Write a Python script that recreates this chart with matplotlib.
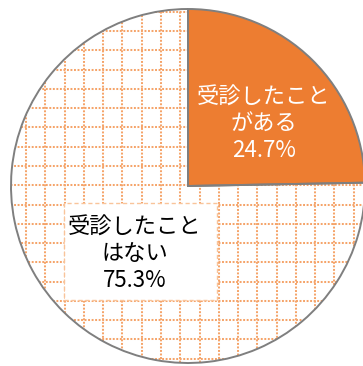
import numpy as np
import matplotlib.pyplot as plt
from matplotlib.patches import Rectangle

plt.rcParams['font.family'] = ['Noto Sans CJK JP', 'DejaVu Sans']

labels = ['受診したこと\nがある', '受診したこと\nはない']
values = [24.7, 75.3]


def main():
    fig = plt.figure(figsize=(3.63, 3.66), dpi=100)
    ax = fig.add_axes([0, 0, 1, 1])

    cx, cy, r = 188, 180, 177
    wedges, _ = ax.pie(values, colors=['#ED7D31', 'none'], startangle=90,
                       counterclock=False, center=(cx, cy), radius=r,
                       wedgeprops=dict(edgecolor='#7F7F7F', linewidth=1.4),
                       frame=True)
    ax.set_xlim(0, 363)
    ax.set_ylim(0, 366)
    ax.set_aspect('equal')
    ax.axis('off')

    # dotted grid pattern inside the big slice
    step = 19.28
    grid_kw = dict(color='#F5A46A', linewidth=1.45, linestyle=(0, (0.95, 0.8)),
                   dash_capstyle='butt', zorder=0)
    for gx in np.arange(6.7, 363, step):
        ln, = ax.plot([gx, gx], [0, 366], **grid_kw)
        ln.set_clip_path(wedges[1])
    for gy in np.arange(11.7, 366, step):
        ln, = ax.plot([0, 363], [366 - gy, 366 - gy], **grid_kw)
        ln.set_clip_path(wedges[1])

    ax.text(264, 242, '{}\n{:.1f}%'.format(labels[0], values[0]), color='white',
            fontsize=16, ha='center', va='center', multialignment='center',
            linespacing=1.22, zorder=5)

    ax.add_patch(Rectangle((64, 66), 153, 97, facecolor='white',
                           edgecolor='#F9C49A', linewidth=1.0,
                           linestyle=(0, (3, 2)), zorder=3))
    ax.text(135, 112, '{}\n{:.1f}%'.format(labels[1], values[1]), color='black',
            fontsize=16, ha='center', va='center', multialignment='center',
            linespacing=1.22, zorder=5)

    fig.savefig('out.png', dpi=100)


if __name__ == '__main__':
    main()
